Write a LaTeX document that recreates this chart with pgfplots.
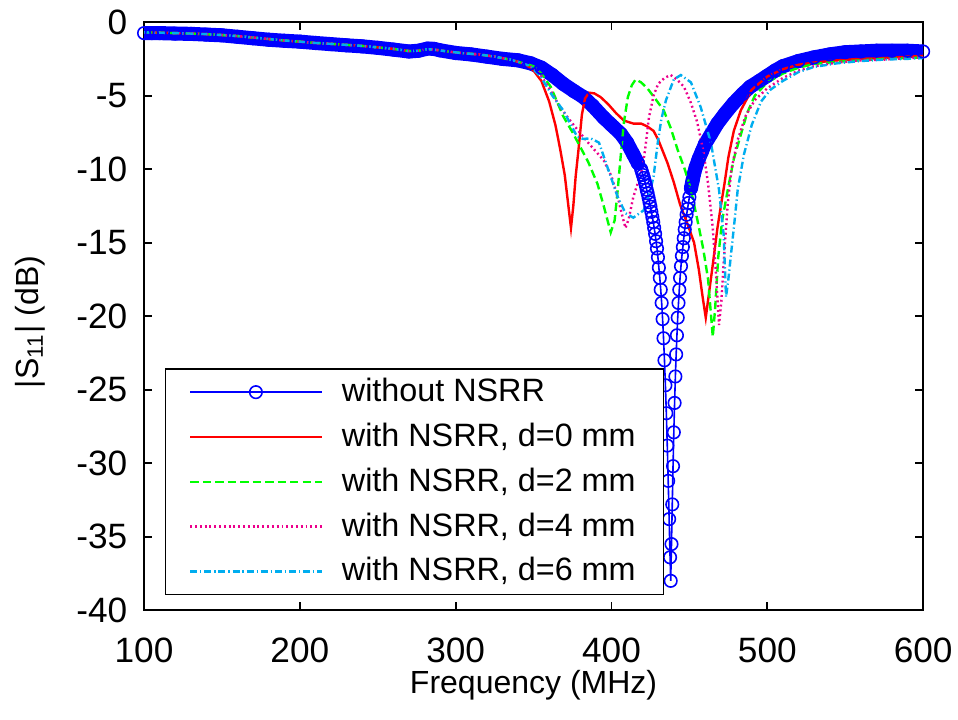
\documentclass[border=0pt]{standalone}
\usepackage{fontspec}
\setmainfont{Liberation Sans}
\usepackage{pgfplots}
\usepackage{pgfplotstable}
\pgfplotsset{compat=1.18}

\pgfplotstableread{
f s
100 -0.75
105 -0.75
110 -0.75
120 -0.78
130 -0.8
140 -0.85
150 -0.9
160 -1.0
170 -1.1
180 -1.2
190 -1.27
200 -1.33
210 -1.42
220 -1.5
230 -1.58
240 -1.65
250 -1.75
260 -1.87
270 -2.0
276 -1.95
282 -1.8
286 -1.82
290 -1.92
300 -2.1
310 -2.2
320 -2.35
330 -2.5
340 -2.6
348 -2.8
355 -3.1
362 -3.6
369 -4.2
376 -4.7
382 -5.1
388 -5.7
395 -6.5
400 -7.0
406 -7.6
410 -8.2
414 -9.0
417 -9.6
419.0 -10.0
419.6 -10.2
420.2 -10.4
420.8 -10.6
421.4 -10.85
422.0 -11.1
422.6 -11.4
423.2 -11.65
423.8 -11.95
424.4 -12.25
425.0 -12.55
425.6 -12.9
426.2 -13.25
426.8 -13.6
427.4 -14.0
428.0 -14.4
428.6 -14.9
429.2 -15.4
429.8 -16.0
430.4 -16.7
431.0 -17.4
431.6 -18.2
432.2 -19.1
432.8 -20.2
433.4 -21.5
434.0 -23.0
434.6 -24.7
435.2 -26.6
435.8 -28.8
436.4 -31.2
437.0 -33.8
437.6 -36.4
438.0 -38.0
438.5 -35.5
439.0 -32.8
439.5 -30.2
440.0 -27.9
440.5 -25.9
441.0 -24.1
441.5 -22.6
442.0 -21.3
442.5 -20.1
443.0 -19.1
443.5 -18.2
444.0 -17.4
444.6 -16.6
445.2 -15.9
445.8 -15.3
446.4 -14.7
447.0 -14.1
447.6 -13.6
448.2 -13.1
448.8 -12.7
449.4 -12.3
450.0 -11.9
451 -11.3
452 -10.8
453 -10.3
454 -9.9
456 -9.3
458 -8.8
460 -8.3
464 -7.6
468 -6.9
473 -6.2
478.5 -5.5
484 -4.9
489 -4.4
495 -4.0
500 -3.65
505 -3.3
510 -3.0
520 -2.65
530 -2.4
540 -2.2
550 -2.05
560 -2.0
570 -1.95
580 -1.95
590 -1.95
600 -2.0
}\bluedata

\pgfplotstableread{
f s
100 -0.7
110 -0.72
120 -0.75
130 -0.78
140 -0.82
150 -0.88
160 -0.95
170 -1.05
180 -1.15
190 -1.25
200 -1.33
210 -1.42
220 -1.48
230 -1.55
240 -1.62
250 -1.72
260 -1.82
270 -1.97
276 -1.95
282 -1.84
288 -1.9
295 -2.0
305 -2.12
315 -2.2
325 -2.35
335 -2.55
340 -2.7
345 -2.9
350 -3.3
355 -4.0
360 -5.4
364 -7.0
367 -8.6
370 -10.4
372 -12.2
374 -14.0
375.5 -12.5
377 -10.5
379 -8.5
381 -6.3
383 -5.2
385.5 -4.8
389 -4.85
393 -5.1
398 -5.6
403 -6.2
408 -6.7
414 -6.9
419 -6.9
423 -7.1
427 -7.4
430 -8.0
433 -8.8
436 -9.6
440 -10.9
444 -12.4
449 -13.8
453 -15.0
456 -16.8
458.5 -18.7
460.5 -20.1
462.5 -18.5
465 -16.5
468 -14.0
470.5 -12.3
472.5 -11.0
475 -9.2
478.5 -7.4
483 -6.0
490 -4.6
500 -3.7
510 -3.2
520 -2.9
530 -2.75
545 -2.6
560 -2.5
575 -2.45
590 -2.35
600 -2.3
}\reddata

\pgfplotstableread{
f s
100 -0.7
110 -0.72
120 -0.75
130 -0.78
140 -0.82
150 -0.88
160 -0.95
170 -1.05
180 -1.15
190 -1.25
200 -1.33
210 -1.42
220 -1.48
230 -1.55
240 -1.62
250 -1.72
260 -1.82
270 -1.97
276 -1.95
282 -1.84
288 -1.9
295 -2.0
305 -2.12
315 -2.2
325 -2.35
335 -2.55
340 -2.7
350 -3.0
355 -3.5
361 -4.4
369 -6.4
375 -7.5
380 -8.5
385 -9.5
391 -11.0
395 -12.5
399.5 -14.3
402 -13.5
404 -11.4
406 -9.0
408 -6.8
410.5 -5.1
413 -4.3
415.5 -3.9
419 -4.1
423 -4.5
428 -5.2
433.5 -6.0
438 -7.2
442.5 -8.7
447 -10.0
451 -11.4
456 -13.9
459 -15.5
462 -17.5
465 -21.4
466.5 -19.5
468.5 -16.0
471 -13.5
475 -11.2
478.5 -9.3
482.6 -7.8
487 -6.2
492 -5.0
500 -4.1
510 -3.5
520 -3.1
530 -2.85
545 -2.7
560 -2.6
575 -2.5
590 -2.45
600 -2.4
}\greendata

\pgfplotstableread{
f s
100 -0.7
110 -0.72
120 -0.75
130 -0.78
140 -0.82
150 -0.88
160 -0.95
170 -1.05
180 -1.15
190 -1.25
200 -1.33
210 -1.42
220 -1.48
230 -1.55
240 -1.62
250 -1.72
260 -1.82
270 -1.97
276 -1.95
282 -1.84
288 -1.9
295 -2.0
305 -2.12
315 -2.2
325 -2.35
335 -2.55
340 -2.7
350 -3.1
354.5 -3.6
360 -4.5
366 -5.6
372 -6.5
378 -7.3
385 -8.2
390 -8.8
395 -9.4
400 -10.5
404 -11.9
407 -13.2
409 -14.0
411 -13.4
414 -11.9
417 -10.9
420 -9.9
422 -8.3
424 -6.5
427 -5.0
430 -4.2
434 -3.8
438 -3.6
442 -3.9
446.5 -4.4
451 -5.5
455 -6.8
459 -8.8
462 -11.0
465 -14.0
467 -17.0
469 -20.6
470.5 -19.0
472.5 -15.5
474.5 -12.5
477 -10.0
481 -8.0
486 -6.4
492 -5.3
500 -4.5
510 -3.8
520 -3.3
530 -3.0
545 -2.75
560 -2.6
575 -2.55
590 -2.45
600 -2.4
}\magentadata

\pgfplotstableread{
f s
100 -0.7
110 -0.72
120 -0.75
130 -0.78
140 -0.82
150 -0.88
160 -0.95
170 -1.05
180 -1.15
190 -1.25
200 -1.33
210 -1.42
220 -1.48
230 -1.55
240 -1.62
250 -1.72
260 -1.82
270 -1.97
276 -1.95
282 -1.84
288 -1.9
295 -2.0
305 -2.12
315 -2.2
325 -2.35
335 -2.55
340 -2.7
348 -3.0
354.5 -3.7
362 -5.0
369 -6.0
374 -7.0
378 -7.8
382 -7.95
386.6 -7.9
392 -8.2
397.5 -9.9
404 -11.9
409 -13.0
414 -13.3
420.7 -12.8
425 -11.4
427 -10.5
429.7 -8.2
432 -6.6
435 -5.3
440 -3.9
444.5 -3.6
451 -4.1
457.3 -5.8
463.8 -8.2
469 -11.4
472 -14.5
473.5 -18.7
475 -17.5
477 -15.5
479 -13.5
481 -11.4
485 -9.0
490 -7.0
496 -5.4
502 -4.6
510 -4.0
520 -3.4
530 -3.05
545 -2.8
560 -2.65
575 -2.55
590 -2.5
600 -2.45
}\cyandata

\begin{document}
\begin{tikzpicture}
\begin{axis}[
  scale only axis, width=243.4pt, height=183.75pt,
  xmin=100, xmax=600, ymin=-40, ymax=0,
  xtick={100,200,...,600}, ytick={-40,-35,...,0},
  tick align=inside, major tick length=2.5pt,
  axis line style={line width=0.6pt},
  every tick/.style={black, line width=0.6pt},
  /pgf/number format/assume math mode=true,
  ticklabel style={font=\fontsize{11}{13}\selectfont},
  xticklabel style={yshift=-5.2pt},
  yticklabel style={xshift=-1.7pt},
  xlabel={Frequency (MHz)}, ylabel={|S\textsubscript{11}| (dB)},
  label style={font=\fontsize{10.9}{13}\selectfont},
  every axis x label/.style={at={(axis description cs:0.5,-0.128)}, anchor=center},
  every axis y label/.style={at={(axis description cs:-0.1465,0.49)}, anchor=center, rotate=90},
  unbounded coords=jump,
  legend style={at={(0.027,0.0255)}, anchor=south west, draw=black, line width=0.4pt,
    inner xsep=7.3pt, inner ysep=1.2pt, row sep=1.9pt, column sep=4.5pt,
    nodes={inner sep=1.5pt, text height=7.5pt, text depth=1.6pt},
    font=\fontsize{10.1}{12}\selectfont, cells={anchor=west}},
  legend image code/.code={\draw[mark repeat=2,mark phase=2] plot coordinates {(0pt,0pt) (20.5pt,0pt) (41pt,0pt)};},
]
\addplot[blue, line width=4.4pt, line cap=round, line join=round, forget plot,
  x filter/.expression={(x>418.5 && x<450.5) ? nan : x}] table[x=f,y=s] {\bluedata};
\addplot[blue, line width=0.5pt, mark=o, mark size=1.95pt, mark options={solid, line width=0.5pt}] table[x=f,y=s] {\bluedata};
\addlegendentry{without NSRR}
\addplot[red, line width=0.75pt] table[x=f,y=s] {\reddata};
\addlegendentry{with NSRR, d=0 mm\hspace{5pt}}
\addplot[green, line width=0.75pt, dash pattern=on 2.6pt off 1.3pt] table[x=f,y=s] {\greendata};
\addlegendentry{with NSRR, d=2 mm\hspace{5pt}}
\addplot[magenta, line width=0.75pt, dash pattern=on 0.6pt off 0.9pt] table[x=f,y=s] {\magentadata};
\addlegendentry{with NSRR, d=4 mm\hspace{5pt}}
\addplot[cyan, line width=0.75pt, dash pattern=on 2.2pt off 0.9pt on 0.4pt off 0.9pt] table[x=f,y=s] {\cyandata};
\addlegendentry{with NSRR, d=6 mm\hspace{5pt}}
\end{axis}
\pgfresetboundingbox
\path[use as bounding box] ([xshift=-45pt,yshift=-34.1pt]current axis.south west) rectangle ([xshift=10.9pt,yshift=6.9pt]current axis.north east);
\end{tikzpicture}
\end{document}
